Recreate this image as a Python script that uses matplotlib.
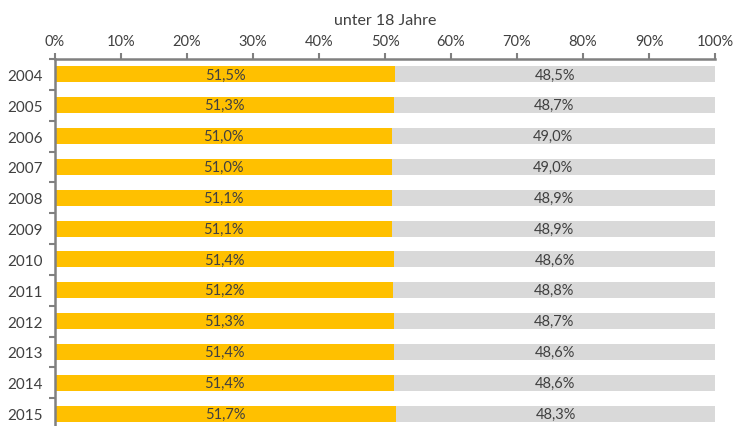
import matplotlib
matplotlib.use("Agg")
import matplotlib.pyplot as plt
from matplotlib.ticker import FixedLocator
import numpy as np

years = ["2004", "2005", "2006", "2007", "2008", "2009", "2010", "2011", "2012", "2013", "2014", "2015"]
share_a = [51.5, 51.3, 51.0, 51.0, 51.1, 51.1, 51.4, 51.2, 51.3, 51.4, 51.4, 51.7]
share_b = [48.5, 48.7, 49.0, 49.0, 48.9, 48.9, 48.6, 48.8, 48.7, 48.6, 48.6, 48.3]
x_ticks = [0, 10, 20, 30, 40, 50, 60, 70, 80, 90, 100]
title = "unter 18 Jahre"

plt.rcParams['font.family'] = ['Lato', 'DejaVu Sans']
text_color = "#404040"

fig = plt.figure(figsize=(7.36, 4.27), dpi=100)
ax = fig.add_axes([55/736, 1 - 60/427 - 370/427, 660/736, 370/427])

y = np.arange(len(years))
ax.barh(y, share_a, height=0.52, color="#FFC000")
ax.barh(y, share_b, left=share_a, height=0.52, color="#D9D9D9")

for i in range(len(years)):
    ax.text(share_a[i] / 2, y[i], f"{share_a[i]:.1f}%".replace(".", ","),
            ha="center", va="center", fontsize=10.5, color=text_color)
    ax.text(share_a[i] + share_b[i] / 2, y[i], f"{share_b[i]:.1f}%".replace(".", ","),
            ha="center", va="center", fontsize=10.5, color=text_color)

ax.set_xlim(0, 100)
ax.set_ylim(len(years) - 0.5, -0.5)
ax.xaxis.set_ticks_position("top")
ax.xaxis.set_label_position("top")
ax.set_xticks(x_ticks)
ax.set_xticklabels([f"{t}%" for t in x_ticks])
ax.set_yticks(y)
ax.set_yticklabels(years)
ax.yaxis.set_minor_locator(FixedLocator(np.arange(-0.5, len(years), 1.0)))
ax.tick_params(axis="y", which="major", length=0, pad=8.5, labelsize=11, labelcolor=text_color)
ax.tick_params(axis="y", which="minor", length=4, width=1.5, color="#808080")
ax.tick_params(axis="x", which="major", length=4, width=1.5, color="#808080", pad=4,
               labelsize=10.5, labelcolor=text_color)

for s in ["right", "bottom"]:
    ax.spines[s].set_visible(False)
for s in ["top", "left"]:
    ax.spines[s].set_color("#808080")
    ax.spines[s].set_linewidth(1.8)

ax.set_title(title, fontsize=11.5, fontweight="normal", color=text_color, pad=25)

fig.savefig("out.png", dpi=100)
